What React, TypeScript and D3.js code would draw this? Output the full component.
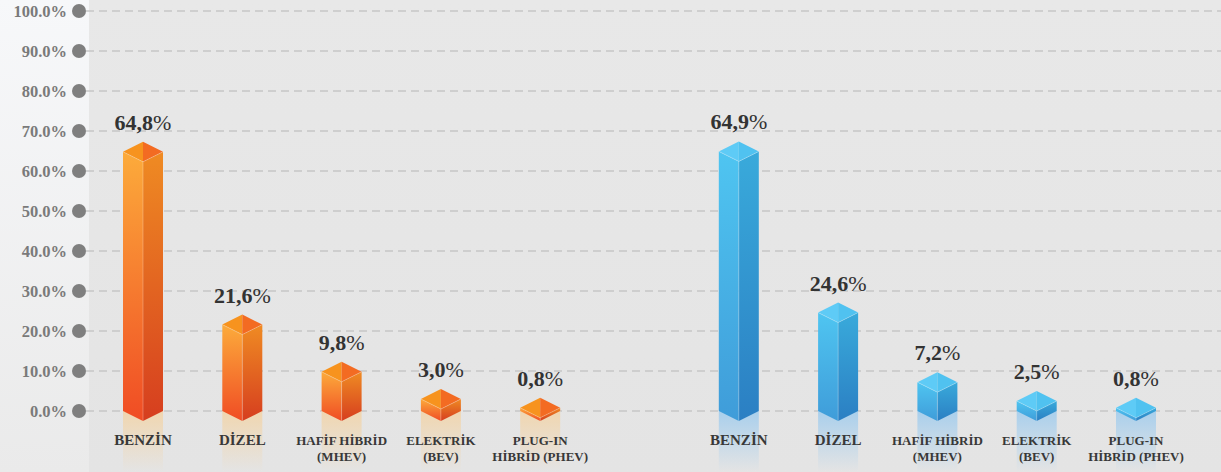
import * as d3 from "d3";

// values (percent)
const categories = ["BENZİN", "DİZEL", "HAFİF HİBRİD|(MHEV)", "ELEKTRİK|(BEV)", "PLUG-IN|HİBRİD (PHEV)"];
const orangeValues = [64.8, 21.6, 9.8, 3.0, 0.8];
const blueValues = [64.9, 24.6, 7.2, 2.5, 0.8];
const yTicks = [0, 10, 20, 30, 40, 50, 60, 70, 80, 90, 100];

const W = 1221;
const H = 472;
const margin = {top: 11, bottom: 61, plotLeft: 89};
const firstCenter = 143;
const lastCenter = 1136;
const halfW = 20;
const tilt = 10;
const serif = "'Liberation Serif', 'Times New Roman', Times, serif";

const palettes = {
  orange: {
    left: ["#fcab3b", "#f04c24"],
    right: ["#ef8b23", "#d63e1f"],
    topL: "#f7931e",
    topR: "#f36b22",
    refl: "#f0d6b0",
  },
  blue: {
    left: ["#4fc5f1", "#3f9cd9"],
    right: ["#39aadb", "#2b7fc3"],
    topL: "#5ecbf6",
    topR: "#50c2f0",
    refl: "#a9cfec",
  },
};

type Key = keyof typeof palettes;

const series: {key: Key; values: number[]}[] = [
  {key: "orange", values: orangeValues},
  {key: "blue", values: blueValues},
];

// one slot per bar plus an empty slot between the two groups
const slots = [
  ...categories.map((c, i) => "orange-" + i),
  "gap",
  ...categories.map((c, i) => "blue-" + i),
];

const fmt = (v: number) => v.toFixed(1).replace(".", ",");

export default function App() {
  const y0 = H - margin.bottom;
  const yScale = d3.scaleLinear().domain([0, 100]).range([y0, margin.top]);
  const xScale = d3.scalePoint<string>().domain(slots).range([firstCenter, lastCenter]);

  return (
    <div style={{position: "fixed", left: 0, top: 0}}>
      <svg width={W} height={H} style={{display: "block"}}>
        <defs>
          <linearGradient id="bg" x1="0" y1="0" x2="0" y2="1">
            <stop offset="0" stopColor="#f7f8fa" />
            <stop offset="1" stopColor="#eaeaea" />
          </linearGradient>
          <linearGradient id="plotbg" x1="0" y1="0" x2="0" y2="1">
            <stop offset="0" stopColor="#e8e8e8" />
            <stop offset="1" stopColor="#e4e4e4" />
          </linearGradient>
          {series.map(({key}) => {
            const p = palettes[key];
            return (
              <g key={key}>
                <linearGradient id={key + "-l"} x1="0" y1="0" x2="0" y2="1">
                  <stop offset="0" stopColor={p.left[0]} />
                  <stop offset="1" stopColor={p.left[1]} />
                </linearGradient>
                <linearGradient id={key + "-r"} x1="0" y1="0" x2="0" y2="1">
                  <stop offset="0" stopColor={p.right[0]} />
                  <stop offset="1" stopColor={p.right[1]} />
                </linearGradient>
                <linearGradient id={key + "-refl"} x1="0" y1="0" x2="0" y2="1">
                  <stop offset="0" stopColor={p.refl} stopOpacity={1} />
                  <stop offset="1" stopColor={p.refl} stopOpacity={0} />
                </linearGradient>
              </g>
            );
          })}
        </defs>

        <rect x={0} y={0} width={W} height={H} fill="url(#bg)" />
        <rect x={margin.plotLeft} y={0} width={W - margin.plotLeft} height={H} fill="url(#plotbg)" />

        {/* grid + axis */}
        {yTicks.map((t) => (
          <g key={t}>
            <line
              x1={86}
              x2={W}
              y1={yScale(t)}
              y2={yScale(t)}
              stroke="#c6c6c6"
              strokeWidth={1.6}
              strokeDasharray="8 5"
            />
            <circle cx={79} cy={yScale(t)} r={7} fill="#7f7f7f" />
            <text
              x={67}
              y={yScale(t) + 5.5}
              textAnchor="end"
              fontFamily={serif}
              fontWeight="bold"
              fontSize={16.5}
              fill="#7a7a7a"
            >
              {t.toFixed(1) + "%"}
            </text>
          </g>
        ))}

        {/* reflections */}
        {series.map(({key, values}) =>
          values.map((v, i) => {
            const c = xScale(key + "-" + i)!;
            return (
              <rect
                key={key + "r" + i}
                x={c - halfW}
                y={y0}
                width={halfW * 2}
                height={H - y0}
                fill={`url(#${key}-refl)`}
              />
            );
          })
        )}

        {/* bars */}
        {series.map(({key, values}) =>
          values.map((v, i) => {
            const p = palettes[key];
            const c = xScale(key + "-" + i)!;
            const yv = Math.min(yScale(v), y0);
            const left = `M${c - halfW},${yv}L${c},${yv + tilt}L${c},${y0 + tilt}L${c - halfW},${y0}Z`;
            const right = `M${c + halfW},${yv}L${c},${yv + tilt}L${c},${y0 + tilt}L${c + halfW},${y0}Z`;
            const topL = `M${c},${yv - tilt}L${c},${yv + tilt}L${c - halfW},${yv}Z`;
            const topR = `M${c},${yv - tilt}L${c},${yv + tilt}L${c + halfW},${yv}Z`;
            const lines = categories[i].split("|");
            const big = lines.length === 1;
            return (
              <g key={key + i}>
                <path d={left} fill={`url(#${key}-l)`} />
                <path d={right} fill={`url(#${key}-r)`} />
                <path d={topL} fill={p.topL} />
                <path d={topR} fill={p.topR} />
                <path
                  d={`M${c - halfW},${yv}L${c},${yv + tilt}L${c + halfW},${yv}M${c},${yv + tilt}L${c},${y0 + tilt}`}
                  fill="none"
                  stroke="#ffffff"
                  strokeOpacity={0.25}
                  strokeWidth={1}
                />
                <text
                  x={c}
                  y={yv - 22}
                  textAnchor="middle"
                  fontFamily={serif}
                  fontSize={22}
                  fill="#333333"
                >
                  <tspan fontWeight="bold">{fmt(v)}</tspan>
                  <tspan>%</tspan>
                </text>
                {lines.map((l, j) => (
                  <text
                    key={j}
                    x={c}
                    y={445 + j * 16}
                    textAnchor="middle"
                    fontFamily={serif}
                    fontWeight="bold"
                    fontSize={big ? 15 : 13}
                    fill="#383838"
                  >
                    {l}
                  </text>
                ))}
              </g>
            );
          })
        )}
      </svg>
    </div>
  );
}
